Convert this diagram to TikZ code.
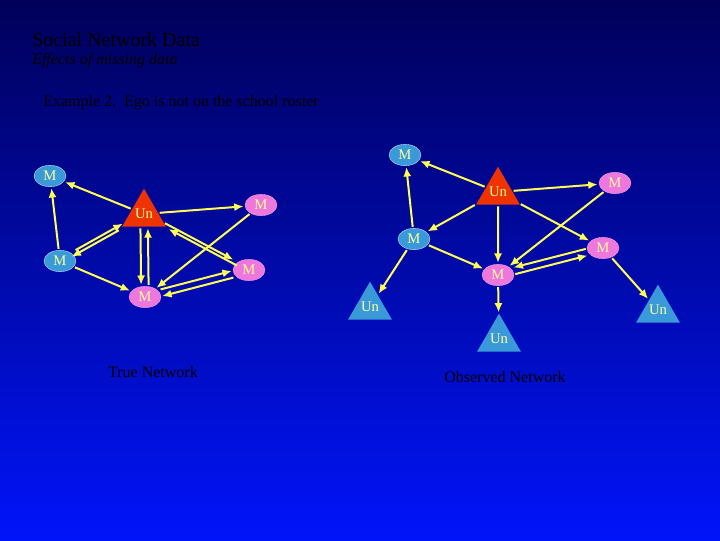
\documentclass[tikz,border=0pt]{standalone}
\usepackage{fontspec}
\setmainfont{Liberation Serif}
\usetikzlibrary{shapes.geometric,arrows.meta}
\definecolor{bnode}{HTML}{3A9AD9}
\definecolor{pnode}{HTML}{EE77DD}
\definecolor{rnode}{HTML}{EE3300}
\definecolor{edge}{HTML}{FFFF55}
\definecolor{ntext}{HTML}{FFFF99}
\tikzset{
 el/.style={ellipse,draw=white!70!bnode,line width=0.3pt,minimum width=24pt,minimum height=16pt,inner sep=0pt,text=ntext,font=\fontsize{11}{11}\selectfont},
 bl/.style={el,fill=bnode},
 pk/.style={el,fill=pnode,draw=pnode!70!white},
 tri/.style={regular polygon,regular polygon sides=3,minimum size=34pt,inner sep=0pt,text=ntext,font=\fontsize{11}{11}\selectfont,text depth=-4pt},
 rtri/.style={tri,fill=rnode},
 btri/.style={tri,fill=bnode},
 ed/.style={draw=edge,line width=1.5pt,-{Latex[length=7pt,width=6pt]},shorten >=1pt,shorten <=1pt},
 txt/.style={text=black,anchor=west,inner sep=0pt}
}
\begin{document}
\begin{tikzpicture}[x=0.75pt,y=-0.75pt]
\shade[top color={rgb,255:red,0;green,0;blue,90},bottom color={rgb,255:red,0;green,20;blue,250}] (0,0) rectangle (720,540);
\useasboundingbox (0,0) rectangle (720,540);
\node[txt,font=\fontsize{15}{15}\selectfont] (t1) at (32,40) {Social Network Data};
\node[txt,font=\fontsize{12}{12}\selectfont\itshape] (t2) at (32,61) {Effects of missing data};
\node[txt,font=\fontsize{12}{12}\selectfont] (t3) at (43,103) {Example 2.\ \ Ego is not on the school roster};
\node[text=black,font=\fontsize{12}{12}\selectfont] (l1) at (153,372) {True Network};
\node[text=black,font=\fontsize{12}{12}\selectfont] (l2) at (505,377) {Observed Network};
% left
\node[bl] (a1) at (50,176) {M};
\node[rtri] (au) at (144,214) {Un};
\node[pk] (a2) at (261,205) {M};
\node[bl] (a3) at (60,261) {M};
\node[pk] (a4) at (249,270) {M};
\node[pk] (a5) at (145,297) {M};
\draw[ed] (au) -- (a1);
\draw[ed] (a3) -- (a1);
\draw[ed] (au) -- (a2);
\draw[ed,transform canvas={shift={(-1.5pt,-2.5pt)}}] (au) -- (a3);
\draw[ed,transform canvas={shift={(1.5pt,2.5pt)}}] (a3) -- (au);
\draw[ed] (a3) -- (a5);
\draw[ed,transform canvas={shift={(-2.8pt,0pt)}}] (au) -- (a5);
\draw[ed,transform canvas={shift={(2.8pt,0pt)}}] (a5) -- (au);
\draw[ed,transform canvas={shift={(-1.4pt,2.2pt)}}] (au) -- (a4);
\draw[ed,transform canvas={shift={(1.4pt,-2.2pt)}}] (a4) -- (au);
\draw[ed] (a2) -- (a5);
\draw[ed,transform canvas={shift={(-0.6pt,2.5pt)}}] (a5) -- (a4);
\draw[ed,transform canvas={shift={(0.6pt,-2.5pt)}}] (a4) -- (a5);
% right
\node[bl] (b1) at (405,155) {M};
\node[rtri] (bu) at (498,192) {Un};
\node[pk] (b2) at (615,183) {M};
\node[bl] (b3) at (414,239) {M};
\node[pk] (b4) at (603,248) {M};
\node[pk] (b5) at (498,275) {M};
\node[btri] (c1) at (370,307) {Un};
\node[btri] (c2) at (499,339) {Un};
\node[btri] (c3) at (658,310) {Un};
\draw[ed] (bu) -- (b1);
\draw[ed] (b3) -- (b1);
\draw[ed] (bu) -- (b2);
\draw[ed] (bu) -- (b3);
\draw[ed] (bu) -- (b5);
\draw[ed] (bu) -- (b4);
\draw[ed] (b2) -- (b5);
\draw[ed] (b3) -- (b5);
\draw[ed,transform canvas={shift={(0.6pt,-2.5pt)}}] (b5) -- (b4);
\draw[ed,transform canvas={shift={(-0.6pt,2.5pt)}}] (b4) -- (b5);
\draw[ed] (b3) -- (c1);
\draw[ed] (b5) -- (c2);
\draw[ed] (b4) -- (c3);
\end{tikzpicture}
\end{document}
